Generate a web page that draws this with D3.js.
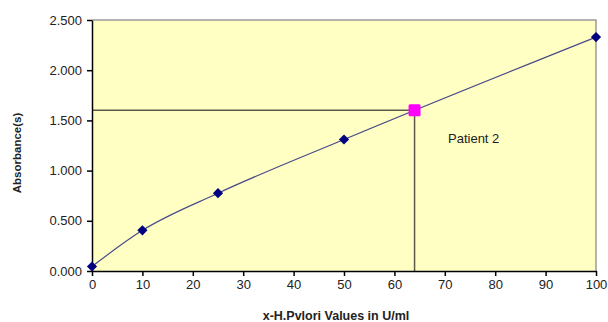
<!DOCTYPE html>
<html><head><meta charset="utf-8">
<script src="https://cdn.jsdelivr.net/npm/d3@7"></script>
<style>body{margin:0;background:#fff}svg{display:block}text{font-family:Arial,"Liberation Sans",sans-serif}</style>
</head><body><svg id="c" width="608" height="322"></svg>
<script>
const xValues = [0, 10, 25, 50, 100];
const absorbance = [0.045, 0.405, 0.775, 1.31, 2.33];
const patientX = 64, patientY = 1.6, patientLabel = "Patient 2";
const xTicks = [0,10,20,30,40,50,60,70,80,90,100];
const yTicks = [0,0.5,1,1.5,2,2.5];
const xTitle = "x-H.Pvlori Values in U/ml", yTitle = "Absorbance(s)";

const svg = d3.select("#c");
const L=92,R=596,T=20,B=271;
const x = d3.scaleLinear().domain([0,100]).range([L,R]);
const y = d3.scaleLinear().domain([0,2.5]).range([B,T]);

svg.append("rect").attr("x",L).attr("y",T).attr("width",R-L).attr("height",B-T).attr("fill","#ffffc4");
svg.append("path").attr("d",`M${L},${T}H${R}V${B}`).attr("fill","none").attr("stroke","#9a9a9a").attr("stroke-width",1.5);

svg.append("path").attr("d",`M${x(0)},${y(patientY)}H${x(patientX)}V${y(0)}`).attr("fill","none").attr("stroke","#5a5a48").attr("stroke-width",1.5);

const pts = xValues.map((v,i)=>[v,absorbance[i]]);
svg.append("path").datum(pts).attr("fill","none").attr("stroke","#4a4a8a").attr("stroke-width",1.2)
  .attr("d",d3.line().x(d=>x(d[0])).y(d=>y(d[1])).curve(d3.curveMonotoneX));

const ya = svg.append("g").attr("transform",`translate(${L},0)`).call(d3.axisLeft(y).tickValues(yTicks).tickFormat(d3.format(".3f")).tickSize(5).tickSizeOuter(0));
const xa = svg.append("g").attr("transform",`translate(0,${B})`).call(d3.axisBottom(x).tickValues(xTicks).tickSize(5).tickSizeOuter(0));
[ya,xa].forEach(a=>{a.selectAll("path,line").attr("stroke","#000").attr("stroke-width",1.5);a.selectAll("text").attr("font-size",13).attr("fill","#222").attr("font-family","Arial, Liberation Sans, sans-serif");});
ya.selectAll("text").attr("x",-10);
xa.selectAll("text").attr("y",9);

svg.append("g").selectAll("path").data(pts).join("path")
  .attr("d",d3.symbol(d3.symbolSquare,52)())
  .attr("transform",d=>`translate(${x(d[0])},${y(d[1])}) rotate(45)`).attr("fill","#000080");

svg.append("rect").attr("x",x(patientX)-6).attr("y",y(patientY)-6).attr("width",12).attr("height",12).attr("rx",1.5).attr("fill","#ff00ff");

svg.append("text").attr("x",448).attr("y",143).attr("font-size",13).attr("fill","#222").text(patientLabel);
svg.append("text").attr("x",336).attr("y",320).attr("text-anchor","middle").attr("font-size",12.5).attr("font-weight","bold").attr("fill","#222").text(xTitle);
svg.append("text").attr("transform","translate(21,153) rotate(-90)").attr("text-anchor","middle").attr("font-size",11.5).attr("font-weight","bold").attr("fill","#222").text(yTitle);
</script></body></html>
